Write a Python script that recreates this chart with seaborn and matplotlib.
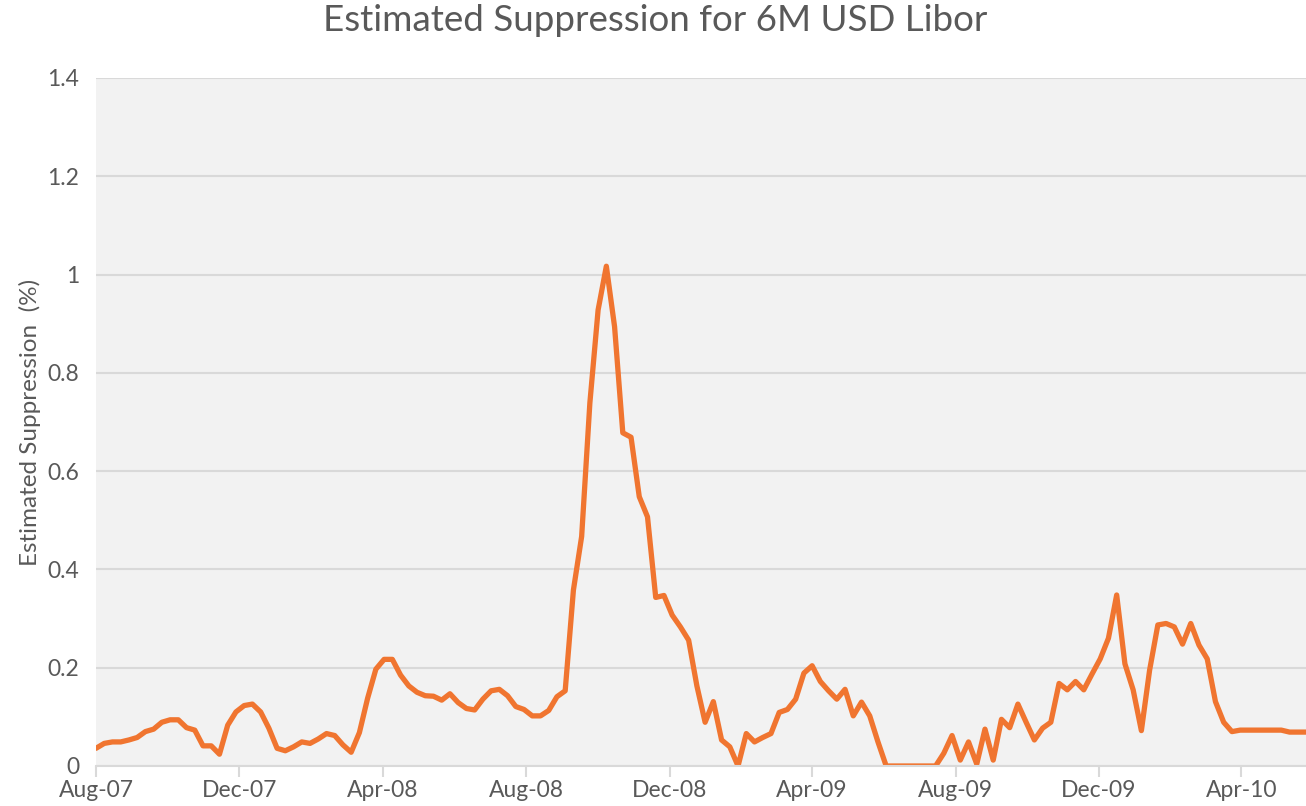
import pandas as pd
import seaborn as sns
import matplotlib.dates as mdates
from matplotlib import pyplot as plt

# weekly observations, Aug-07 .. May-10
START_DATE = "2007-08-01"
suppression = [
    0.036, 0.046, 0.049, 0.049, 0.053, 0.058, 0.070, 0.075, 0.089, 0.094,
    0.094, 0.078, 0.073, 0.041, 0.041, 0.024, 0.083, 0.110, 0.123, 0.126,
    0.110, 0.077, 0.036, 0.031, 0.039, 0.049, 0.046, 0.055, 0.066, 0.062,
    0.043, 0.028, 0.068, 0.138, 0.197, 0.217, 0.217, 0.185, 0.163, 0.150,
    0.143, 0.142, 0.134, 0.147, 0.129, 0.117, 0.114, 0.136, 0.153, 0.156,
    0.143, 0.121, 0.115, 0.102, 0.102, 0.113, 0.141, 0.153, 0.358, 0.467,
    0.739, 0.928, 1.017, 0.894, 0.678, 0.669, 0.548, 0.507, 0.343, 0.347,
    0.307, 0.283, 0.256, 0.163, 0.089, 0.131, 0.053, 0.039, 0.000, 0.066,
    0.049, 0.058, 0.066, 0.109, 0.115, 0.136, 0.189, 0.204, 0.172, 0.153,
    0.136, 0.156, 0.102, 0.130, 0.102, 0.049, 0.000, 0.000, 0.000, 0.000,
    0.000, 0.000, 0.000, 0.026, 0.062, 0.012, 0.049, 0.004, 0.075, 0.012,
    0.095, 0.078, 0.126, 0.089, 0.053, 0.077, 0.089, 0.168, 0.155, 0.172,
    0.155, 0.187, 0.218, 0.260, 0.348, 0.208, 0.155, 0.072, 0.195, 0.287,
    0.290, 0.283, 0.248, 0.290, 0.246, 0.218, 0.131, 0.089, 0.070, 0.073,
    0.073, 0.073, 0.073, 0.073, 0.073, 0.069, 0.069, 0.069,
]
y_ticks = [0, 0.2, 0.4, 0.6, 0.8, 1.0, 1.2, 1.4]
y_tick_labels = ["0", "0.2", "0.4", "0.6", "0.8", "1", "1.2", "1.4"]

LINE_COLOR = "#f07530"
TEXT_COLOR = "#595959"
GRID_COLOR = "#d9d9d9"

df = pd.DataFrame({
    "date": pd.date_range(START_DATE, periods=len(suppression), freq="7D"),
    "value": suppression,
})

sns.set_style("whitegrid", {"axes.facecolor": "#f2f2f2", "grid.color": GRID_COLOR})
plt.rcParams["font.family"] = ["Lato", "DejaVu Sans"]

fig = plt.figure(figsize=(13.06, 8.06), dpi=100)
ax = fig.add_axes([96 / 1306, 40 / 806, 1 - 96 / 1306, 688 / 806])

sns.lineplot(df, x="date", y="value", ax=ax, color=LINE_COLOR, linewidth=3.8)

ax.set_xlim(df["date"].iloc[0], df["date"].iloc[-1])
ax.set_ylim(0, 1.4)
ax.set_yticks(y_ticks)
ax.set_yticklabels(y_tick_labels)

ax.xaxis.set_major_locator(mdates.MonthLocator(bymonth=[4, 8, 12]))
ax.xaxis.set_major_formatter(mdates.DateFormatter("%b-%y"))
ax.grid(axis="x", visible=False)
ax.grid(axis="y", linewidth=1.5)

for side in ["left", "right", "top"]:
    ax.spines[side].set_visible(False)
ax.spines["bottom"].set_color(GRID_COLOR)
ax.spines["bottom"].set_linewidth(1.5)

ax.tick_params(axis="x", colors=GRID_COLOR, length=8, width=1.5, bottom=True,
               labelcolor=TEXT_COLOR, labelsize=16.5, pad=2)
ax.tick_params(axis="y", length=0, labelcolor=TEXT_COLOR, labelsize=16.5, pad=12)

ax.set_xlabel("")
ax.set_ylabel("Estimated Suppression  (%)", color=TEXT_COLOR, fontsize=17.5, labelpad=5)
fig.suptitle("Estimated Suppression for 6M USD Libor", color=TEXT_COLOR,
             fontsize=26.5, x=0.5015, y=0.995, va="top")

plt.savefig("out.png", dpi=100)
